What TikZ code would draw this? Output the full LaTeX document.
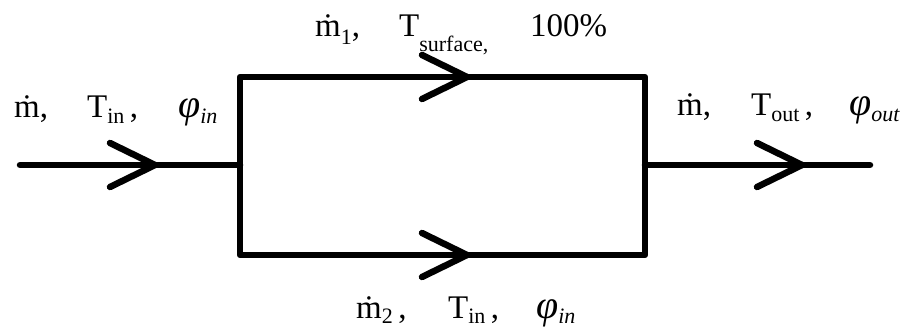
\documentclass[tikz,border=0pt]{standalone}
\usepackage{fontspec}
\setmainfont{Liberation Serif}
\usepackage{tikz}
\usetikzlibrary{positioning, calc}
\newcommand{\lowsub}[2]{\raisebox{-#1}{\fontsize{22}{22}\selectfont #2}}
\newcommand{\bigphi}{{\fontsize{40}{40}\selectfont\textit{φ}}}
\tikzset{
	flowhead/.pic={
			\draw[flowline] (-45,-22) -- (0,0) -- (-45,22);
		}
}
\tikzset{
	flowline/.style={line width=6.5pt, line cap=round, line join=round}
}
\tikzset{
	statetext/.style={font=\fontsize{33}{33}\selectfont, anchor=base west, inner sep=0pt}
}

\begin{document}
\begin{tikzpicture}[x=1pt, y=-1pt]

			\useasboundingbox (0,0) rectangle (904,331);

			\begin{scope}
				\coordinate (inL) at (20,165);
				\coordinate (jL) at (240,165);
				\coordinate (jR) at (645,165);
				\coordinate (outR) at (870,165);
				\coordinate (tl) at (240,77);
				\coordinate (tr) at (645,77);
				\coordinate (bl) at (240,255);
				\coordinate (br) at (645,255);

				\draw[flowline] (inL) -- (jL);
				\draw[flowline] (jR) -- (outR);
				\draw[flowline] (tl) -- (tr) -- (br) -- (bl) -- cycle;
			\end{scope}

			\begin{scope}
				\pic at (155,165) {flowhead};
				\pic at (467,77) {flowhead};
				\pic at (467,255) {flowhead};
				\pic at (802,165) {flowhead};
			\end{scope}

			% inlet
			\node[statetext] (inM) at (14,118) {ṁ,};
			\node[statetext] (inT) at (87,118) {T\lowsub{6pt}{in}\,,};
			\node[statetext] (inPhi) at (178,118) {\bigphi\lowsub{6pt}{\textit{in}}};

			% upper branch
			\node[statetext] (upM) at (315,37) {ṁ\lowsub{8pt}{1},};
			\node[statetext] (upT) at (399,37) {T\lowsub{15pt}{surface,}};
			\node[statetext] (upRh) at (530,37) {100\%};

			% outlet
			\node[statetext] (outM) at (677,116) {ṁ,};
			\node[statetext] (outT) at (751,116) {T\lowsub{6pt}{out}\,,};
			\node[statetext] (outPhi) at (849,116) {\bigphi\lowsub{6pt}{\textit{out}}};

			% lower branch
			\node[statetext] (lowM) at (356,318) {ṁ\lowsub{5pt}{2}\,,};
			\node[statetext] (lowT) at (448,318) {T\lowsub{5pt}{in}\,,};
			\node[statetext] (lowPhi) at (536,318) {\bigphi\lowsub{5pt}{\textit{in}}};

\end{tikzpicture}
\end{document}
